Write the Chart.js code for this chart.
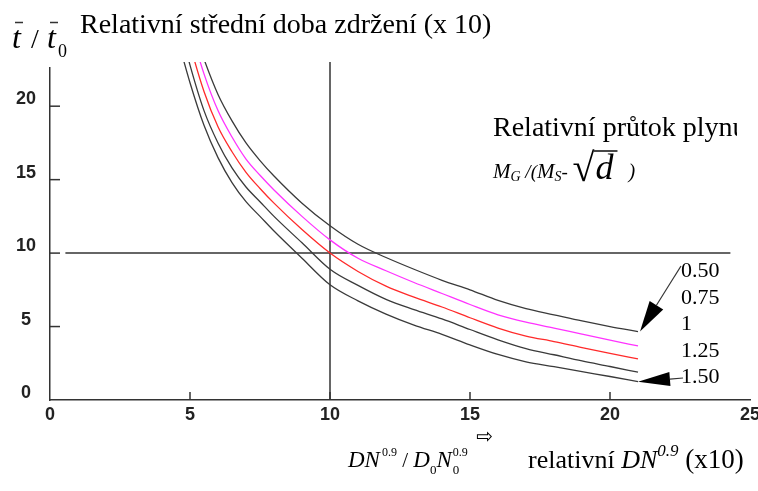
<!DOCTYPE html>
<html>
<head>
<meta charset="utf-8">
<script src="https://cdn.jsdelivr.net/npm/chart.js@4.4.1/dist/chart.umd.min.js"></script>
<style>
  html, body { margin: 0; padding: 0; background: #fff; }
  #wrap { width: 758px; height: 491px; }
</style>
</head>
<body>
<div id="wrap"><canvas id="myChart" width="758" height="491"></canvas></div>
<script>
// values
const xValues = [4.5, 5, 5.5, 6, 6.5, 7, 7.5, 8, 9, 10, 11, 12, 13, 14, 15, 16, 17, 18, 19, 20, 21];
const flow050 = [29.5, 26, 23.2, 20.8, 19.0, 17.5, 16.3, 15.25, 13.4, 11.86, 10.6, 9.7, 8.9, 8.15, 7.5, 6.78, 6.22, 5.8, 5.38, 5.0, 4.66];
const flow075 = [29, 25.4, 22.2, 19.7, 17.9, 16.4, 15.3, 14.3, 12.5, 10.9, 9.65, 8.8, 8.0, 7.25, 6.5, 5.8, 5.3, 4.9, 4.48, 4.07, 3.68];
const flow100 = [28, 24.2, 21.0, 18.6, 16.9, 15.5, 14.4, 13.4, 11.6, 10.0, 8.75, 7.75, 7.0, 6.33, 5.6, 4.9, 4.35, 3.98, 3.57, 3.18, 2.8];
const flow125 = [26.5, 22.8, 19.7, 17.5, 15.8, 14.5, 13.5, 12.5, 10.7, 8.9, 7.8, 6.85, 6.15, 5.52, 4.8, 4.1, 3.5, 3.08, 2.66, 2.28, 1.89];
const flow150 = [25, 21.6, 18.7, 16.5, 14.8, 13.5, 12.5, 11.5, 9.65, 7.84, 6.75, 5.85, 5.1, 4.47, 3.75, 3.1, 2.6, 2.27, 1.93, 1.6, 1.25];
const flowLabels = ["0.50", "0.75", "1", "1.25", "1.50"];
const tickValues = [5, 10, 15, 20];
const hLineX = [0.55, 24.3];
const hLineY = 10;
const vLineX = 10;
const vLineY = [0, 23];

function toPoints(ys) {
  return ys.map((y, i) => ({ x: xValues[i], y: y }));
}

const curveStyle = {
  borderWidth: 1.3,
  pointRadius: 0,
  cubicInterpolationMode: "monotone",
  clip: { left: 0, top: 6, right: 0, bottom: 0 },
};

const serif = '"Liberation Serif", "Times New Roman", serif';
const tickFont = { family: '"Liberation Sans", Arial, sans-serif', size: 18, weight: "bold" };

function drawRun(ctx, parts, x, y) {
  parts.forEach((p) => {
    ctx.font = p.font;
    ctx.fillText(p.t, x + (p.dx || 0), y + (p.dy || 0));
    if (!p.stay) x += ctx.measureText(p.t).width + (p.dx || 0);
  });
  return x;
}

function arrow(ctx, x1, y1, x2, y2, len, half) {
  const a = Math.atan2(y2 - y1, x2 - x1);
  const bx = x2 - len * Math.cos(a), by = y2 - len * Math.sin(a);
  ctx.beginPath();
  ctx.moveTo(x1, y1);
  ctx.lineTo(bx, by);
  ctx.stroke();
  ctx.beginPath();
  ctx.moveTo(x2, y2);
  ctx.lineTo(bx + half * Math.sin(a), by - half * Math.cos(a));
  ctx.lineTo(bx - half * Math.sin(a), by + half * Math.cos(a));
  ctx.closePath();
  ctx.fill();
}

const extras = {
  id: "extras",
  afterDraw(chart) {
    const ctx = chart.ctx;
    const xs = chart.scales.x, ys = chart.scales.y;
    ctx.save();
    ctx.strokeStyle = "#333";
    ctx.fillStyle = "#000";
    ctx.lineWidth = 1.5;

    // inward tick marks
    tickValues.forEach((v) => {
      const px = xs.getPixelForValue(v);
      ctx.beginPath();
      ctx.moveTo(px, ys.bottom);
      ctx.lineTo(px, ys.bottom - 8);
      ctx.stroke();
      const py = ys.getPixelForValue(v);
      ctx.beginPath();
      ctx.moveTo(xs.left, py);
      ctx.lineTo(xs.left + 10, py);
      ctx.stroke();
    });

    ctx.textBaseline = "alphabetic";
    ctx.textAlign = "left";

    // title
    ctx.font = "28px " + serif;
    ctx.fillText("Relativní střední doba zdržení (x 10)", 80, 33);

    // y label  t / t0 with bars
    ctx.font = "italic 32px " + serif;
    ctx.fillText("t", 12, 48);
    ctx.font = "28px " + serif;
    ctx.fillText("/", 31, 48);
    ctx.font = "italic 32px " + serif;
    ctx.fillText("t", 47, 48);
    ctx.font = "18px " + serif;
    ctx.fillText("0", 58, 57);
    ctx.lineWidth = 1.5;
    ctx.beginPath();
    ctx.moveTo(15, 22.5); ctx.lineTo(23, 22.5);
    ctx.moveTo(50, 22.5); ctx.lineTo(58, 22.5);
    ctx.stroke();

    // legend heading, clipped at the frame edge
    ctx.save();
    ctx.beginPath();
    ctx.rect(0, 0, 737, 491);
    ctx.clip();
    ctx.font = "28px " + serif;
    ctx.fillText("Relativní průtok plynu", 493, 136);
    ctx.restore();

    // M_G/(M_S- sqrt d )
    let x = drawRun(ctx, [
      { t: "M", font: "italic 21px " + serif },
      { t: "G", font: "italic 14px " + serif, dy: 3 },
      { t: " /(", font: "italic 19px " + serif },
      { t: "M", font: "italic 21px " + serif },
      { t: "S", font: "italic 14px " + serif, dy: 3 },
      { t: "- ", font: "italic 19px " + serif },
      { t: "\u221A", font: "40px " + serif, dy: 3 },
    ], 493, 178);
    const dStart = x;
    x = drawRun(ctx, [{ t: "d", font: "italic 36px " + serif }], x + 1, 179);
    ctx.lineWidth = 1.8;
    ctx.beginPath();
    ctx.moveTo(dStart - 1, 151);
    ctx.lineTo(x + 4, 151);
    ctx.stroke();
    drawRun(ctx, [{ t: "   )", font: "italic 20px " + serif }], x, 178);

    // curve labels
    ctx.font = "22px " + serif;
    const labelBase = [277, 304, 330, 357, 383];
    flowLabels.forEach((t, i) => ctx.fillText(t, 681, labelBase[i]));

    // arrows to the outer curves
    ctx.lineWidth = 1.2;
    arrow(ctx, 681, 266, xs.getPixelForValue(21) + 2, ys.getPixelForValue(flow050[flow050.length - 1]), 31, 8);
    arrow(ctx, 683, 378, xs.getPixelForValue(21), ys.getPixelForValue(flow150[flow150.length - 1]), 32, 7);

    // x axis caption
    ctx.font = "20px \"DejaVu Sans\"";
    ctx.fillText("\u21E8", 476, 443);
    const B = 467;
    drawRun(ctx, [
      { t: "DN", font: "italic 23px " + serif },
      { t: "0.9", font: "12px " + serif, dy: -11, dx: 2 },
      { t: " / ", font: "21px " + serif },
      { t: "D", font: "italic 23px " + serif },
      { t: "0", font: "13px " + serif, dy: 7 },
      { t: "N", font: "italic 23px " + serif },
      { t: "0", font: "13px " + serif, dy: 7, dx: 1, stay: true },
      { t: "0.9", font: "12px " + serif, dy: -11, dx: 1 },
    ], 348, B);
    drawRun(ctx, [
      { t: "relativní ", font: "26px " + serif },
      { t: "DN", font: "italic 26px " + serif },
      { t: "0.9", font: "italic 17px " + serif, dy: -12 },
      { t: " (x10)", font: "27px " + serif },
    ], 528, B + 1);

    ctx.restore();
  },
};

const ctx = document.getElementById("myChart");
new Chart(ctx, {
  type: "line",
  data: {
    datasets: [
      { ...curveStyle, label: flowLabels[0], data: toPoints(flow050), borderColor: "#3a3a3a" },
      { ...curveStyle, label: flowLabels[1], data: toPoints(flow075), borderColor: "#ff33ff" },
      { ...curveStyle, label: flowLabels[2], data: toPoints(flow100), borderColor: "#ff2a2a" },
      { ...curveStyle, label: flowLabels[3], data: toPoints(flow125), borderColor: "#3a3a3a" },
      { ...curveStyle, label: flowLabels[4], data: toPoints(flow150), borderColor: "#3a3a3a" },
      {
        label: "h",
        data: hLineX.map((v) => ({ x: v, y: hLineY })),
        borderColor: "#333",
        borderWidth: 1.5,
        pointRadius: 0,
      },
      {
        label: "v",
        data: vLineY.map((v) => ({ x: vLineX, y: v })),
        borderColor: "#333",
        borderWidth: 1.5,
        pointRadius: 0,
        clip: { left: 0, top: 6, right: 0, bottom: 0 },
      },
    ],
  },
  options: {
    responsive: false,
    animation: false,
    layout: { padding: { top: 68, right: 8, left: 0, bottom: 0 } },
    plugins: {
      legend: { display: false },
      tooltip: { enabled: false },
    },
    scales: {
      x: {
        type: "linear",
        min: 0,
        max: 25,
        grid: { display: false, drawTicks: false },
        border: { display: true, color: "#333", width: 1.5 },
        ticks: {
          stepSize: 5,
          padding: 4,
          color: "#222",
          font: tickFont,
        },
        afterFit: (s) => {
          s.height = 91;
          s.paddingLeft = 0;
          s.paddingRight = 0;
        },
      },
      y: {
        type: "linear",
        min: 0,
        max: 22.6,
        grid: { display: false, drawTicks: false },
        border: { display: true, color: "#333", width: 1.5 },
        ticks: {
          stepSize: 5,
          includeBounds: false,
          crossAlign: "center",
          padding: 14,
          labelOffset: -7,
          color: "#222",
          font: tickFont,
        },
        afterFit: (s) => {
          s.width = 50;
          s.paddingTop = 0;
          s.paddingBottom = 0;
        },
      },
    },
  },
  plugins: [extras],
});
</script>
</body>
</html>
